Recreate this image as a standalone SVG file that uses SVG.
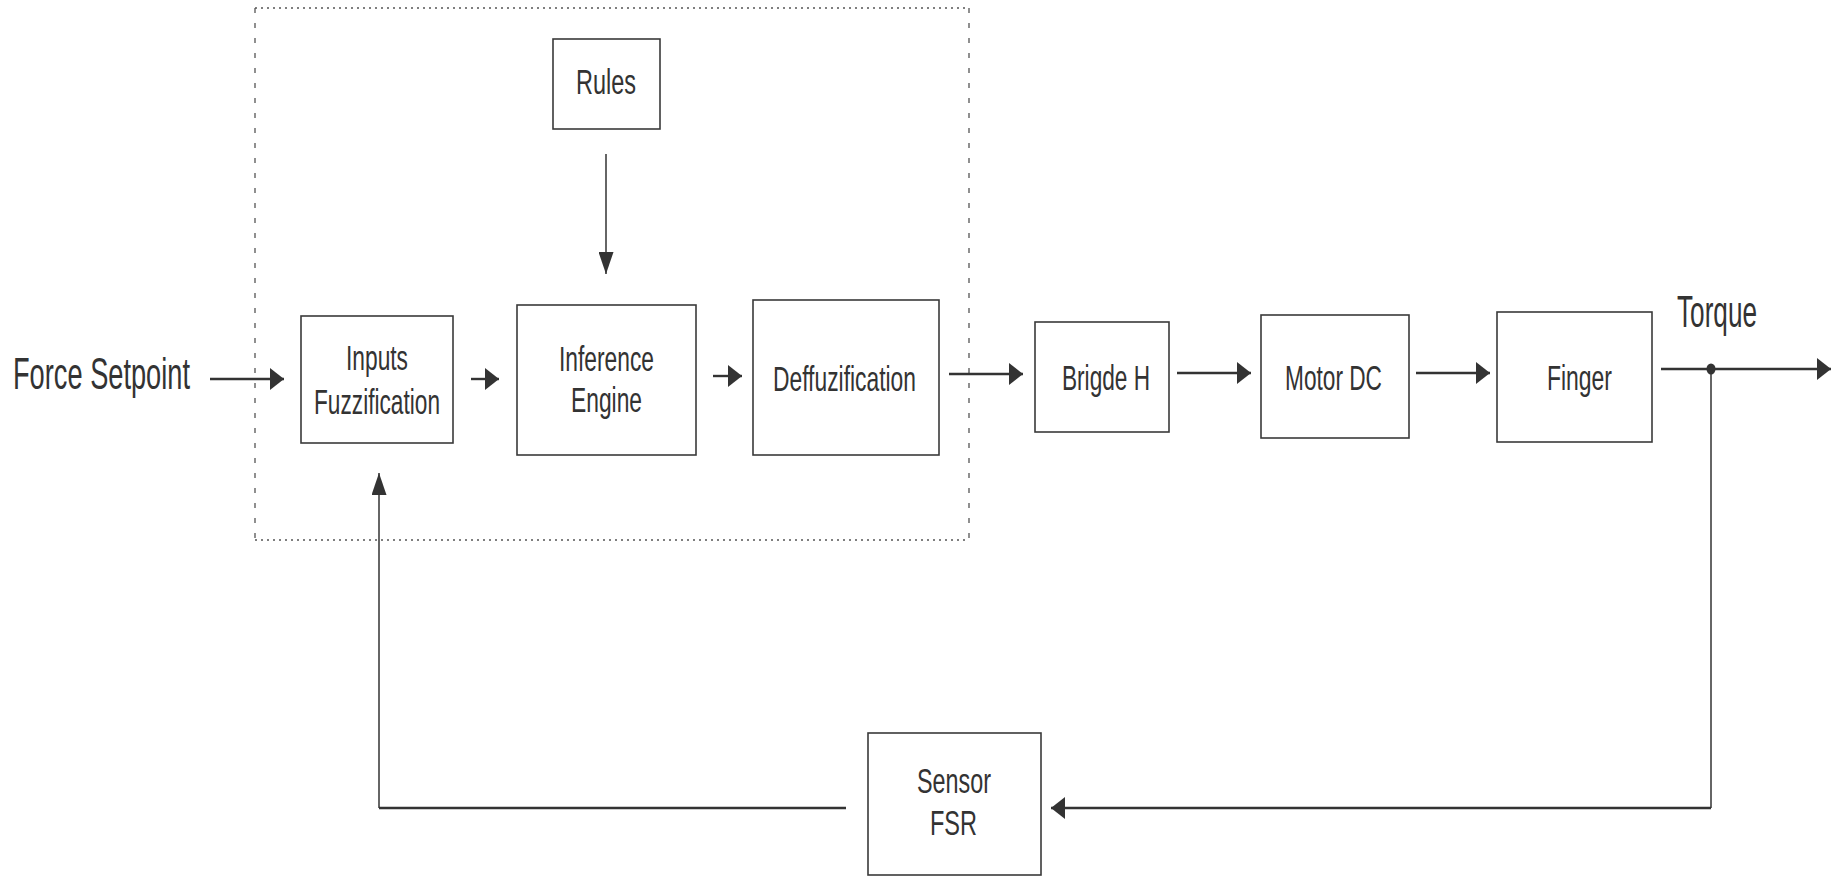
<svg xmlns="http://www.w3.org/2000/svg" width="1841" height="877" viewBox="0 0 1841 877">
<style>
  .box rect { fill: #fff; stroke: #3a3a3a; stroke-width: 1.6; }
  text { font-family: "Liberation Sans", Arial, sans-serif; fill: #333; }
  .lbl { font-size: 35px; }
  .big { font-size: 45px; }
  .h { fill: none; stroke: #333; stroke-width: 2.4; }
  .v { fill: none; stroke: #333; stroke-width: 1.5; }
  .dotH { fill: none; stroke: #555; stroke-width: 1.5; stroke-dasharray: 2 4; }
  .dotV { fill: none; stroke: #555; stroke-width: 1.3; stroke-dasharray: 5 10; }
</style>
<defs>
  <marker id="arrH" markerUnits="userSpaceOnUse" markerWidth="14" markerHeight="22" refX="14" refY="11" orient="auto">
    <path d="M0,0 L14,11 L0,22 z" fill="#333"/>
  </marker>
  <marker id="arrV" markerUnits="userSpaceOnUse" markerWidth="22" markerHeight="15" refX="22" refY="7.5" orient="auto">
    <path d="M0,0 L22,7.5 L0,15 z" fill="#333"/>
  </marker>
</defs>
<rect width="1841" height="877" fill="#fff"/>

<g id="fuzzy-controller-boundary">
  <path class="dotH" d="M255,8 H969 M255,540 H969"/>
  <path class="dotV" d="M255,8 V540 M969,8 V540"/>
</g>

<g id="connectors">
  <path class="h" d="M210,379 H284" marker-end="url(#arrH)"/>
  <path class="h" d="M471,379 H499" marker-end="url(#arrH)"/>
  <path class="h" d="M713,376 H742" marker-end="url(#arrH)"/>
  <path class="h" d="M949,374 H1023" marker-end="url(#arrH)"/>
  <path class="h" d="M1177,373 H1251" marker-end="url(#arrH)"/>
  <path class="h" d="M1416,373 H1490" marker-end="url(#arrH)"/>
  <path class="h" d="M1661,369 H1831" marker-end="url(#arrH)"/>
  <ellipse cx="1711" cy="369" rx="4.5" ry="5.5" fill="#333"/>
  <path class="v" d="M606,154 V274" marker-end="url(#arrV)"/>
  <path class="v" d="M1711,369 V808"/>
  <path class="h" d="M1711,808 H1051" marker-end="url(#arrH)"/>
  <path class="h" d="M846,808 H379"/>
  <path class="v" d="M379,808 V473" marker-end="url(#arrV)"/>
</g>

<g id="force-setpoint">
  <text class="big" x="13" y="389" textLength="177" lengthAdjust="spacingAndGlyphs">Force Setpoint</text>
</g>
<g id="torque">
  <text class="big" x="1677" y="327" textLength="80" lengthAdjust="spacingAndGlyphs">Torque</text>
</g>

<g id="rules" class="box">
  <rect x="553" y="39" width="107" height="90"/>
  <text class="lbl" x="576" y="94" textLength="60" lengthAdjust="spacingAndGlyphs">Rules</text>
</g>
<g id="inputs-fuzzification" class="box">
  <rect x="301" y="316" width="152" height="127"/>
  <text class="lbl" x="346" y="370" textLength="62" lengthAdjust="spacingAndGlyphs">Inputs</text>
  <text class="lbl" x="314" y="414" textLength="126" lengthAdjust="spacingAndGlyphs">Fuzzification</text>
</g>
<g id="inference-engine" class="box">
  <rect x="517" y="305" width="179" height="150"/>
  <text class="lbl" x="559" y="371" textLength="95" lengthAdjust="spacingAndGlyphs">Inference</text>
  <text class="lbl" x="571" y="412" textLength="71" lengthAdjust="spacingAndGlyphs">Engine</text>
</g>
<g id="deffuzification" class="box">
  <rect x="753" y="300" width="186" height="155"/>
  <text class="lbl" x="773" y="391" textLength="143" lengthAdjust="spacingAndGlyphs">Deffuzification</text>
</g>
<g id="bridge-h" class="box">
  <rect x="1035" y="322" width="134" height="110"/>
  <text class="lbl" x="1062" y="390" textLength="88" lengthAdjust="spacingAndGlyphs">Brigde H</text>
</g>
<g id="motor-dc" class="box">
  <rect x="1261" y="315" width="148" height="123"/>
  <text class="lbl" x="1285" y="390" textLength="97" lengthAdjust="spacingAndGlyphs">Motor DC</text>
</g>
<g id="finger" class="box">
  <rect x="1497" y="312" width="155" height="130"/>
  <text class="lbl" x="1547" y="390" textLength="65" lengthAdjust="spacingAndGlyphs">Finger</text>
</g>
<g id="sensor-fsr" class="box">
  <rect x="868" y="733" width="173" height="142"/>
  <text class="lbl" x="917" y="793" textLength="74" lengthAdjust="spacingAndGlyphs">Sensor</text>
  <text class="lbl" x="930" y="835" textLength="47" lengthAdjust="spacingAndGlyphs">FSR</text>
</g>
</svg>
